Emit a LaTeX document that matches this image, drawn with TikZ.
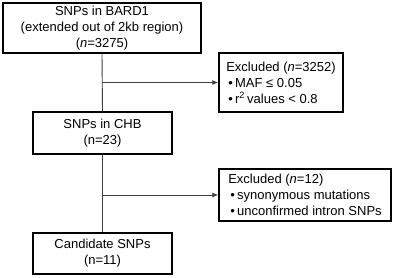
\documentclass[tikz,border=0pt]{standalone}
\usepackage{fontspec}
\setmainfont{Liberation Sans}
\usetikzlibrary{arrows.meta}
\begin{document}
\begin{tikzpicture}[x=1pt,y=-1pt,
  every node/.style={font=\fontsize{13}{16}\selectfont},
  mainbox/.style={draw=black,line width=1.5pt,align=center,inner sep=0pt},
  exbox/.style={draw=black,line width=1.5pt,align=left,inner sep=0pt},
  conn/.style={draw=black!75,line width=0.9pt},
  arr/.style={conn,-{Latex[length=6pt,width=5pt]}}]
\useasboundingbox (0,0) rectangle (396,278);
\node[mainbox,minimum width=198pt,minimum height=50pt] (b1) at (102,28)
  {SNPs in BARD1\\(extended out of 2kb region)\\(\textit{n}=3275)};
\node[mainbox,minimum width=139pt,minimum height=42pt] (b2) at (102.5,133)
  {SNPs in CHB\\(n=23)};
\node[mainbox,minimum width=139pt,minimum height=41pt] (b3) at (102.5,253.5)
  {Candidate SNPs\\(n=11)};
\node[exbox,minimum width=124pt,minimum height=59pt] (e1) at (281,82.5)
  {Excluded (\textit{n}=3252)\\\,•\,MAF ≤ 0.05\\\,•\,r\textsuperscript{2}\,values < 0.8};
\node[exbox,minimum width=172pt,minimum height=52pt] (e2) at (305,195)
  {Excluded (\textit{n}=12)\\\,•\,synonymous mutations\\\,•\,unconfirmed intron SNPs};
\coordinate (j1) at (b1.south |- e1.west);
\coordinate (j2) at (b2.south |- e2.west);
\draw[conn] (b1.south) -- (b2.north);
\draw[conn] (b2.south) -- (b3.north);
\draw[arr] (j1) -- (e1.west);
\draw[arr] (j2) -- (e2.west);
\end{tikzpicture}
\end{document}
